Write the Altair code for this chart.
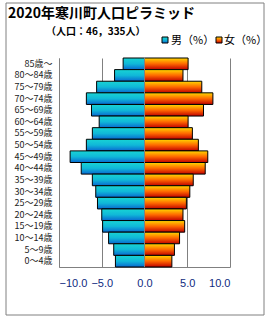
import altair as alt
import pandas as pd

ages = ["85歳～", "80～84歳", "75～79歳", "70～74歳", "65～69歳", "60～64歳",
        "55～59歳", "50～54歳", "45～49歳", "40～44歳", "35～39歳", "30～34歳",
        "25～29歳", "20～24歳", "15～19歳", "10～14歳", "5～9歳", "0～4歳"]
male = [2.5, 3.5, 5.6, 6.8, 6.2, 5.3, 6.1, 6.8, 8.7, 7.4, 6.1, 5.7,
        5.5, 5.0, 4.9, 4.2, 3.6, 3.4]
female = [5.1, 4.5, 6.7, 8.0, 6.9, 5.1, 5.6, 6.3, 7.4, 7.1, 5.7, 5.3,
          4.9, 4.5, 4.7, 4.1, 3.5, 3.2]
ticks = [-10, -5, 0, 5, 10]
title_text = "2020年寒川町人口ピラミッド"
subtitle_text = "（人口：46，335人）"
legend_labels = ["男（%）", "女（%）"]

JP = "Noto Sans CJK JP"

df = pd.DataFrame({"age": ages, "male": male, "female": female})

male_grad = alt.LinearGradient(
    gradient="linear", x1=0, x2=0, y1=0, y2=1,
    stops=[alt.GradientStop(offset=0, color="#18D4D4"),
           alt.GradientStop(offset=0.5, color="#10B8D8"),
           alt.GradientStop(offset=1, color="#0868D0")])
female_grad = alt.LinearGradient(
    gradient="linear", x1=0, x2=0, y1=0, y2=1,
    stops=[alt.GradientStop(offset=0, color="#FFD800"),
           alt.GradientStop(offset=0.5, color="#FF6800"),
           alt.GradientStop(offset=1, color="#C00000")])

y_enc = alt.Y("age:N", sort=ages,
              scale=alt.Scale(paddingInner=0, paddingOuter=0),
              axis=alt.Axis(title=None, ticks=False, domainColor="#808080",
                            labelFont=JP, labelFontSize=9, labelColor="#222222",
                            labelPadding=7))
x_enc = alt.X("v:Q", scale=alt.Scale(domain=[-10, 10], nice=False),
              axis=alt.Axis(title=None, values=ticks, format=".1f", grid=True,
                            gridColor="#808080", gridOpacity=1, ticks=False,
                            domainColor="#808080", labelFont="Liberation Sans",
                            labelFontSize=11, labelColor="#102a80",
                            labelPadding=10))

base = alt.Chart(df)
male_bars = base.transform_calculate(v="-datum.male", z="0").mark_bar(
    fill=male_grad, stroke="black", strokeWidth=1).encode(
    x=x_enc, x2="z:Q", y=y_enc)
female_bars = base.transform_calculate(v="datum.female", z="0").mark_bar(
    fill=female_grad, stroke="black", strokeWidth=1).encode(
    x="v:Q", x2="z:Q", y=y_enc)

zero = alt.Chart(pd.DataFrame({"v": [0]})).mark_rule(
    color="#808080", strokeWidth=1).encode(x="v:Q")

title = alt.Chart(pd.DataFrame({"t": [title_text]})).mark_text(
    align="left", baseline="alphabetic", font=JP, fontSize=14,
    fontWeight="bold", color="black").encode(
    text="t:N", x=alt.value(-51), y=alt.value(-40))
subtitle = alt.Chart(pd.DataFrame({"t": [subtitle_text]})).mark_text(
    align="left", baseline="alphabetic", font=JP, fontSize=10,
    fontWeight="bold", color="black").encode(
    text="t:N", x=alt.value(-13), y=alt.value(-23))

leg_m_box = alt.Chart(pd.DataFrame({"t": [legend_labels[0]]})).mark_rect(
    fill=male_grad, stroke="black", strokeWidth=1).encode(
    x=alt.value(103), x2=alt.value(109), y=alt.value(-21), y2=alt.value(-15))
leg_f_box = alt.Chart(pd.DataFrame({"t": [legend_labels[1]]})).mark_rect(
    fill=female_grad, stroke="black", strokeWidth=1).encode(
    x=alt.value(157), x2=alt.value(163), y=alt.value(-21), y2=alt.value(-15))
leg_m_txt = alt.Chart(pd.DataFrame({"t": [legend_labels[0]]})).mark_text(
    align="left", baseline="alphabetic", font=JP, fontSize=11,
    color="black").encode(text="t:N", x=alt.value(112), y=alt.value(-14))
leg_f_txt = alt.Chart(pd.DataFrame({"t": [legend_labels[1]]})).mark_text(
    align="left", baseline="alphabetic", font=JP, fontSize=11,
    color="black").encode(text="t:N", x=alt.value(165), y=alt.value(-14))

frame = alt.Chart(pd.DataFrame({"t": [""]})).mark_rect(
    fill="transparent", stroke="#808080", strokeWidth=1).encode(
    x=alt.value(-53), x2=alt.value(205), y=alt.value(-55), y2=alt.value(257))

chart = alt.layer(
    male_bars, female_bars, zero, title, subtitle,
    leg_m_box, leg_f_box, leg_m_txt, leg_f_txt, frame
).properties(
    width=171, height=209,
    autosize=alt.AutoSizeParams(type="none"),
    padding={"left": 59, "top": 58, "right": 40, "bottom": 53},
    background="white"
).configure_view(stroke=None)

chart.save("out.html", embed_options={"renderer": "svg", "actions": False})
